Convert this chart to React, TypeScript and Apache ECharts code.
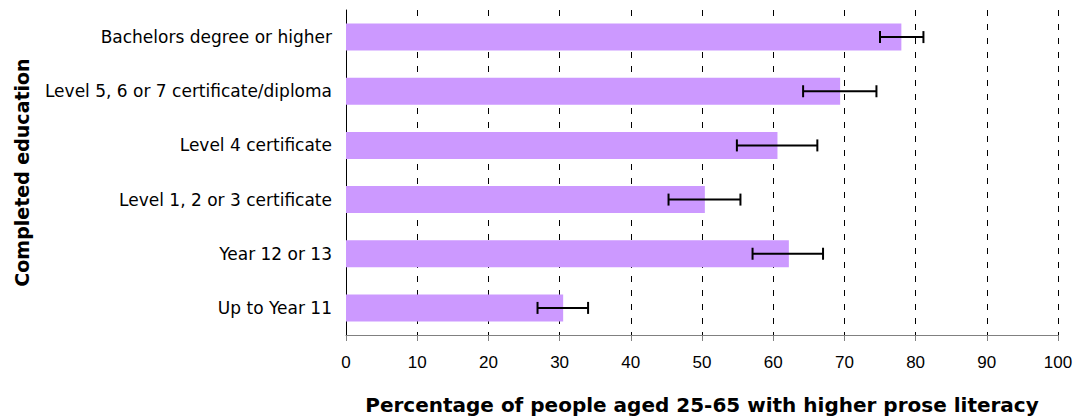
import React, { useEffect, useRef } from "react";
import * as echarts from "echarts";

const categories = [
  "Bachelors degree or higher",
  "Level 5, 6 or 7 certificate/diploma",
  "Level 4 certificate",
  "Level 1, 2 or 3 certificate",
  "Year 12 or 13",
  "Up to Year 11",
];
const values = [78.0, 69.4, 60.6, 50.4, 62.2, 30.5];
const errLow = [75.0, 64.2, 54.9, 45.3, 57.1, 26.9];
const errHigh = [81.1, 74.5, 66.2, 55.4, 67.0, 34.0];
const xTicks = [0, 10, 20, 30, 40, 50, 60, 70, 80, 90, 100];

const FONT = "'Liberation Sans', Arial, sans-serif";
const WIDE = "'DejaVu Sans', 'Liberation Sans', sans-serif";

export default function App() {
  const ref = useRef<HTMLDivElement>(null);
  useEffect(() => {
    if (!ref.current) return;
    const chart = echarts.init(ref.current, undefined, { renderer: "svg" });
    const errData = categories.map((_, i) => [errLow[i], errHigh[i], i]);
    chart.setOption({
      animation: false,
      grid: { left: 346, right: 22, top: 10, bottom: 82, containLabel: false },
      xAxis: {
        type: "value",
        min: xTicks[0],
        max: xTicks[xTicks.length - 1],
        interval: 10,
        name: "Percentage of people aged 25-65 with higher prose literacy",
        nameLocation: "middle",
        nameGap: 60,
        nameTextStyle: { fontFamily: WIDE, fontWeight: "bold", fontSize: 20, color: "#000" },
        axisLine: { show: true, lineStyle: { color: "#808080", width: 1 } },
        axisTick: { show: true, length: 6, lineStyle: { color: "#808080" } },
        axisLabel: { fontFamily: FONT, fontSize: 17, color: "#000", margin: 19 },
        splitLine: {
          show: true,
          lineStyle: { color: "#000", width: 1, type: [6, 8] },
        },
      },
      yAxis: {
        type: "category",
        data: categories,
        inverse: true,
        name: "Completed education",
        nameLocation: "middle",
        nameGap: 315,
        nameRotate: 90,
        nameTextStyle: { fontFamily: WIDE, fontWeight: "bold", fontSize: 19, color: "#000" },
        axisLine: { show: true, lineStyle: { color: "#000", width: 1 } },
        axisTick: { show: false },
        axisLabel: { fontFamily: WIDE, fontSize: 17, color: "#000", margin: 14 },
      },
      series: [
        {
          type: "bar",
          data: values,
          barWidth: 27,
          itemStyle: { color: "#CC99FF" },
          z: 2,
        },
        {
          type: "custom",
          data: errData,
          z: 3,
          renderItem: (params: any, api: any) => {
            const idx = api.value(2);
            const p1 = api.coord([api.value(0), idx]);
            const p2 = api.coord([api.value(1), idx]);
            const h = 6;
            const style = { stroke: "#000", lineWidth: 2 };
            return {
              type: "group",
              children: [
                { type: "line", shape: { x1: p1[0], y1: p1[1], x2: p2[0], y2: p2[1] }, style },
                { type: "line", shape: { x1: p1[0], y1: p1[1] - h, x2: p1[0], y2: p1[1] + h }, style },
                { type: "line", shape: { x1: p2[0], y1: p2[1] - h, x2: p2[0], y2: p2[1] + h }, style },
              ],
            };
          },
        },
      ],
    });
    return () => chart.dispose();
  }, []);
  return <div ref={ref} style={{ width: 1080, height: 420, position: "absolute", left: 0, top: 0 }} />;
}
